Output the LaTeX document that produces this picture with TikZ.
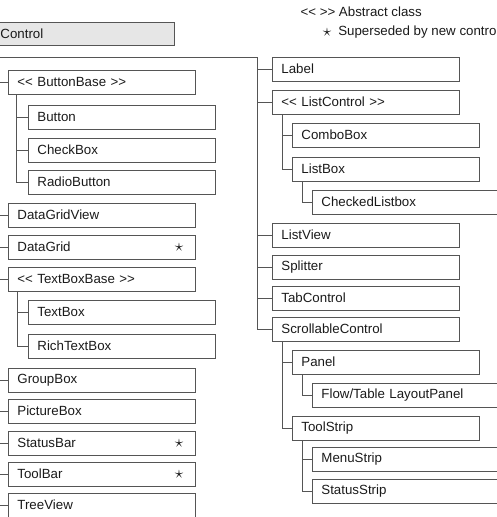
\documentclass[tikz,border=0pt]{standalone}
\usepackage{fontspec}
\setmainfont{Liberation Sans}
\usetikzlibrary{positioning}
\definecolor{boxgray}{HTML}{555555}
\definecolor{ctrlfill}{HTML}{E6E6E6}
\definecolor{txtcol}{HTML}{1A1A1A}
\newcommand\abst[1]{<\kern0pt< #1 >\kern0pt>}
\newcommand\supd{\hfill{\fontsize{16}{16}\selectfont$\star$}\hspace*{3pt}}

\begin{document}
\begin{tikzpicture}[x=1pt, y=-1pt,
  every node/.style={font=\fontsize{13.3}{16}\selectfont, text=txtcol},
  cls/.style={draw=boxgray, line width=0.85pt, anchor=west, minimum height=24pt,
    text width=169pt, inner xsep=9pt, inner ysep=0pt, align=left},
  conn/.style={draw=boxgray, line width=0.85pt}]
 \useasboundingbox (0,0) rectangle (496,517);

 % Legend
 \node[anchor=west] (abslegend) at (297,12) {<\kern0pt< >\kern0pt> Abstract class};
 \node[font=\fontsize{16}{16}\selectfont] (supstar) at (327,32) {$\star$};
 \node[right=0pt of supstar] (suplegend) {Superseded by new controls};

 % Root class
 \node[cls, fill=ctrlfill, text width=164pt, inner xsep=10pt, minimum height=23pt] (control) at (-10,33.5) {Control};

 % Left column
 \node[cls] (bbase) at (8,82) {\abst{ButtonBase}};
 \node[cls] (button) at (28,117) {Button};
 \node[cls] (checkbox) at (28,150) {CheckBox};
 \node[cls] (radio) at (28,182) {RadioButton};
 \node[cls] (dgview) at (8,215) {DataGridView};
 \node[cls] (dgrid) at (8,247) {DataGrid\supd};
 \node[cls] (tbbase) at (8,279) {\abst{TextBoxBase}};
 \node[cls] (textbox) at (28,312) {TextBox};
 \node[cls] (richtb) at (28,346) {RichTextBox};
 \node[cls] (groupbox) at (8,380) {GroupBox};
 \node[cls] (picbox) at (8,411) {PictureBox};
 \node[cls] (statusbar) at (8,443) {StatusBar\supd};
 \node[cls] (toolbar) at (8,474) {ToolBar\supd};
 \node[cls] (treeview) at (8,505) {TreeView};

 % Right column
 \node[cls] (label) at (272,69) {Label};
 \node[cls] (listctrl) at (272,102) {\abst{ListControl}};
 \node[cls] (combobox) at (292,135) {ComboBox};
 \node[cls] (listbox) at (292,169) {ListBox};
 \node[cls] (chklistbox) at (312,202) {CheckedListbox};
 \node[cls] (listview) at (272,235) {ListView};
 \node[cls] (splitter) at (272,267) {Splitter};
 \node[cls] (tabctrl) at (272,298) {TabControl};
 \node[cls] (scrollctrl) at (272,329) {ScrollableControl};
 \node[cls] (panel) at (292,362) {Panel};
 \node[cls] (flowpanel) at (312,395) {Flow/Table LayoutPanel};
 \node[cls] (toolstrip) at (292,428) {ToolStrip};
 \node[cls] (menustrip) at (312,459) {MenuStrip};
 \node[cls] (statusstrip) at (312,491) {StatusStrip};

 % Connectors
 \coordinate (lroot) at (-1,57);
 \coordinate (rroot) at (257,57);
 \draw[conn] (lroot) -- (rroot);
 \foreach \n in {bbase,dgview,dgrid,tbbase,groupbox,picbox,statusbar,toolbar,treeview}
   \draw[conn] (lroot) |- (\n.west);
 \foreach \n in {label,listctrl,listview,splitter,tabctrl,scrollctrl}
   \draw[conn] (rroot) |- (\n.west);
 \foreach \n in {button,checkbox,radio}
   \draw[conn] ([xshift=8pt]bbase.south west) |- (\n.west);
 \foreach \n in {textbox,richtb}
   \draw[conn] ([xshift=9pt]tbbase.south west) |- (\n.west);
 \foreach \n in {combobox,listbox}
   \draw[conn] ([xshift=10pt]listctrl.south west) |- (\n.west);
 \draw[conn] ([xshift=10pt]listbox.south west) |- (chklistbox.west);
 \foreach \n in {panel,toolstrip}
   \draw[conn] ([xshift=10pt]scrollctrl.south west) |- (\n.west);
 \draw[conn] ([xshift=10pt]panel.south west) |- (flowpanel.west);
 \foreach \n in {menustrip,statusstrip}
   \draw[conn] ([xshift=10pt]toolstrip.south west) |- (\n.west);
\end{tikzpicture}
\end{document}
